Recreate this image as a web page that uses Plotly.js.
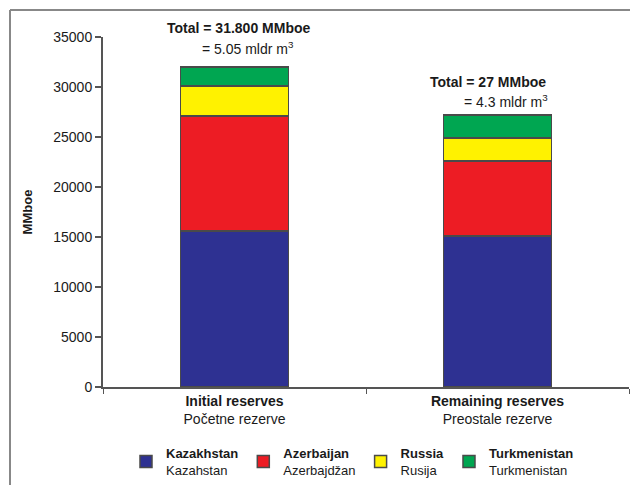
<!DOCTYPE html>
<html>
<head>
<meta charset="utf-8">
<script src="https://cdn.plot.ly/plotly-3.0.1.min.js"></script>
<style>
html,body{margin:0;padding:0;background:#fff;}
#chart{width:630px;height:485px;}
</style>
</head>
<body>
<div id="chart"></div>
<script>
// Data
const categories = ["Initial reserves", "Remaining reserves"];
const categoryLabels = ["<b>Initial reserves</b><br>Početne rezerve", "<b>Remaining reserves</b><br>Preostale rezerve"];
const seriesNames = ["<b>Kazakhstan</b><br>Kazahstan", "<b>Azerbaijan</b><br>Azerbajdžan", "<b>Russia</b><br>Rusija", "<b>Turkmenistan</b><br>Turkmenistan"];
const kazakhstan = [15600, 15100];
const azerbaijan = [11500, 7500];
const russia = [3000, 2300];
const turkmenistan = [1900, 2300];
const totalLine1 = ["<b>Total = 31.800 MMboe</b>", "<b>Total = 27 MMboe</b>"];
const totalLine2 = ["= 5.05 mldr m<sup>3</sup>", "= 4.3 mldr m<sup>3</sup>"];
const yTicks = [0, 5000, 10000, 15000, 20000, 25000, 30000, 35000];

const colors = ["#2E3192", "#ED1C24", "#FFF200", "#00A651"];
const values = [kazakhstan, azerbaijan, russia, turkmenistan];

const traces = values.map((v, i) => ({
  type: "bar",
  name: seriesNames[i],
  x: categories,
  y: v,
  width: 0.41,
  marker: {color: colors[i], line: {color: "#4a4a4a", width: 1.5}}
}));

const font = "Liberation Sans, Arial, Helvetica, sans-serif";
const W = 526, H = 350;
function px(x){ return (x - 103) / W; }
function py(y){ return (387 - y) / H; }

const annotations = [
  {xref:"paper", yref:"paper", x:px(238), y:py(28), text: totalLine1[0], showarrow:false, font:{size:14, color:"#1a1a1a", family:font}, xanchor:"center", yanchor:"middle"},
  {xref:"paper", yref:"paper", x:px(200), y:py(48), text: totalLine2[0], showarrow:false, font:{size:14, color:"#1a1a1a", family:font}, xanchor:"left", yanchor:"middle"},
  {xref:"paper", yref:"paper", x:px(488), y:py(82), text: totalLine1[1], showarrow:false, font:{size:14, color:"#1a1a1a", family:font}, xanchor:"center", yanchor:"middle"},
  {xref:"paper", yref:"paper", x:px(462), y:py(101), text: totalLine2[1], showarrow:false, font:{size:14, color:"#1a1a1a", family:font}, xanchor:"left", yanchor:"middle"}
];

const layout = {
  width: 630, height: 485,
  margin: {l: 103, r: 1, t: 37, b: 98, autoexpand: false},
  paper_bgcolor: "#fff", plot_bgcolor: "#fff",
  barmode: "stack",
  font: {family: font, color: "#1a1a1a", size: 14},
  showlegend: true,
  legend: {
    orientation: "h", x: px(126), y: py(438), xanchor: "left", yanchor: "top",
    font: {size: 13, family: font, color: "#1a1a1a"},
    traceorder: "normal", itemwidth: 30,
    tracegroupgap: 0
  },
  xaxis: {
    type: "category",
    tickvals: categories, ticktext: categoryLabels,
    tickson: "boundaries", ticks: "outside", ticklen: 5, tickcolor: "#555",
    showline: true, linecolor: "#555", linewidth: 2,
    showgrid: false, zeroline: false,
    tickfont: {size: 14, family: font, color: "#1a1a1a"},
    range: [-0.5, 1.5], fixedrange: true
  },
  yaxis: {
    range: [0, 35000], tickvals: yTicks, ticktext: yTicks.map(String),
    ticks: "outside", ticklen: 6, tickcolor: "#555", tickwidth: 1.5,
    showline: true, linecolor: "#555", linewidth: 2,
    showgrid: false, zeroline: false,
    tickfont: {size: 14, family: font, color: "#1a1a1a"},
    title: {text: "<b>MMboe</b>", font: {size: 13, family: font, color: "#1a1a1a"}, standoff: 18}
  },
  annotations: annotations,
  shapes: [
    {type:"line", xref:"paper", yref:"paper", x0:px(10), x1:px(631), y0:py(10), y1:py(10), line:{color:"#888", width:2}},
    {type:"line", xref:"paper", yref:"paper", x0:px(10), x1:px(10), y0:py(10), y1:py(486), line:{color:"#888", width:2}}
  ]
};

Plotly.newPlot("chart", traces, layout, {displayModeBar: false, staticPlot: true});
</script>
</body>
</html>
